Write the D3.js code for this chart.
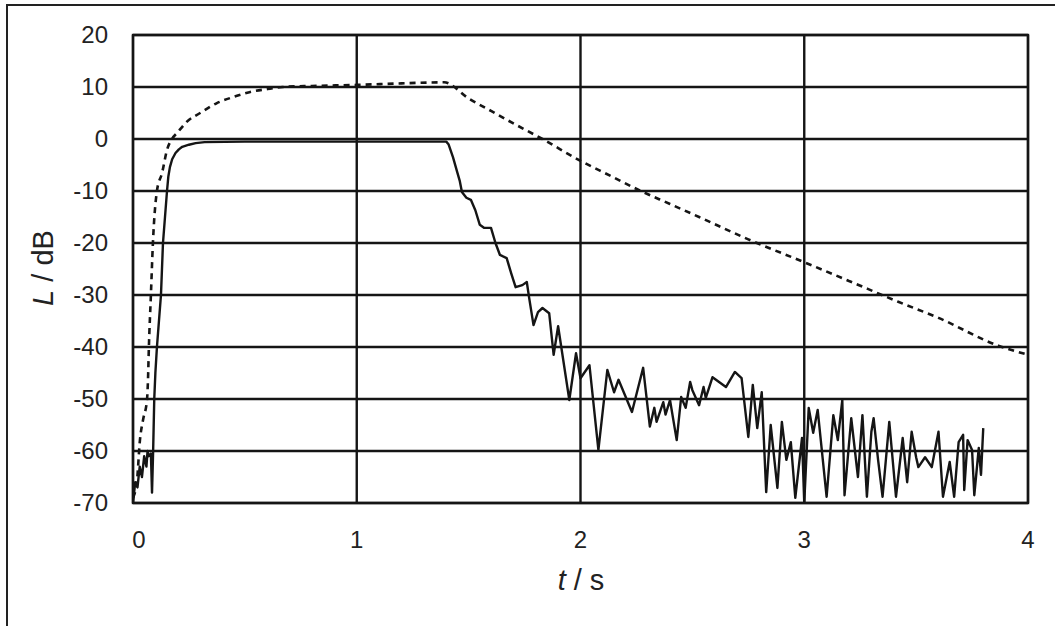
<!DOCTYPE html>
<html>
<head>
<meta charset="utf-8">
<script src="https://cdn.jsdelivr.net/npm/d3@7"></script>
<style>
  html, body { margin: 0; padding: 0; background: #fff; }
  svg { display: block; }
</style>
</head>
<body>
<svg id="chart" width="1055" height="626"></svg>
<script>
// level vs time, solid = measured decay, dashed = second curve
const xTicks = [0, 1, 2, 3, 4];
const yTicks = [20, 10, 0, -10, -20, -30, -40, -50, -60, -70];

const tSolid = [0, 0.01, 0.02, 0.03, 0.04, 0.05, 0.06, 0.065, 0.07, 0.08,
  0.085, 0.09, 0.095, 0.1, 0.107, 0.125, 0.134, 0.152, 0.158, 0.165,
  0.175, 0.19, 0.205, 0.22, 0.25, 0.28, 0.32, 0.5, 1.0, 1.40,
  1.41, 1.43, 1.45, 1.46,
  1.47, 1.49, 1.51, 1.53, 1.55, 1.57, 1.60, 1.62, 1.64, 1.67,
  1.69, 1.71, 1.74, 1.76, 1.77, 1.79, 1.81, 1.83, 1.86, 1.88,
  1.90, 1.95, 1.98, 2.00, 2.04, 2.08, 2.12, 2.15, 2.17, 2.23,
  2.28, 2.31, 2.33, 2.34, 2.37, 2.38, 2.40, 2.43, 2.45, 2.47,
  2.49, 2.50, 2.53, 2.55, 2.56, 2.59, 2.65, 2.69, 2.72, 2.75,
  2.77, 2.79, 2.81, 2.83, 2.85, 2.88, 2.90, 2.92, 2.94, 2.96,
  2.99, 3.00, 3.02, 3.04, 3.06, 3.10, 3.13, 3.15, 3.17, 3.18,
  3.21, 3.24, 3.26, 3.28, 3.30, 3.31, 3.33, 3.35, 3.38, 3.41,
  3.44, 3.46, 3.48, 3.50, 3.51, 3.54, 3.57, 3.58, 3.60, 3.62,
  3.65, 3.67, 3.69, 3.71, 3.715, 3.73, 3.75, 3.76, 3.78, 3.79,
  3.80];
const lSolid = [-70, -66, -67, -63, -65, -61, -63, -60, -61, -60.5,
  -68, -60, -50, -45, -40, -30, -20, -10, -7.2, -5.4,
  -3.9, -2.7, -2.0, -1.5, -1.1, -0.8, -0.6, -0.5, -0.5, -0.5,
  -1, -3.5, -6.5, -8,
  -10.2, -11.3, -11.7, -13.7, -16.5, -17.1, -17.1, -20, -22.3, -22.9,
  -25.8, -28.5, -28.1, -27.5, -30.4, -35.8, -33.3, -32.5, -33.5, -41.5,
  -36, -50.2, -41.2, -46, -43.5, -59.8, -44.4, -48.7, -46.3, -52.5,
  -44, -55.3, -51.7, -54.4, -50.6, -53, -50.2, -57.9, -49.6, -51.7,
  -46.7, -48.3, -51.2, -47.7, -49.8, -45.8, -47.7, -44.8, -46.0, -57.3,
  -47.3, -55.6, -48.7, -67.9, -55.0, -67.1, -54.4, -61.7, -58.3, -69.0,
  -57.5, -70, -51.7, -56.5, -52.1, -68.8, -53.1, -57.9, -50.2, -68.5,
  -53.7, -65.0, -53.1, -68.8, -56.3, -53.7, -61.7, -68.8, -54.4, -68.8,
  -57.5, -66.0, -56.3, -61.2, -63.1, -61.2, -63.1, -60.8, -56.3, -68.8,
  -62.1, -68.8, -58.3, -56.9, -67.5, -57.9, -59.8, -68.5, -59.4, -64.6,
  -55.6];

const tDashed = [0, 0.018, 0.031, 0.045, 0.0625, 0.067, 0.071, 0.08, 0.089, 0.107,
  0.13, 0.152, 0.174, 0.2, 0.24, 0.3, 0.375, 0.45, 0.52, 0.6,
  0.67, 0.8, 1.0, 1.2, 1.39, 1.5, 1.6, 1.7, 1.83, 2.0,
  2.13, 2.26, 2.4, 2.53, 2.75, 3.0, 3.2, 3.42, 3.6, 3.87,
  4.0];
const lDashed = [-69, -65.6, -57.9, -54, -50.2, -46.3, -40, -30, -20, -10,
  -6.5, -2.1, 0, 1.3, 3.3, 5, 6.9, 8.1, 9, 9.6,
  10, 10.2, 10.4, 10.7, 10.9, 7.8, 5.4, 3.0, 0, -4.2,
  -7.0, -9.8, -12.5, -15, -19.3, -23.7, -27.3, -31.3, -34.4, -39.8,
  -41.5];

if (tSolid.length != lSolid.length || tDashed.length != lDashed.length)
  throw new Error("series length mismatch " + tSolid.length + "/" + lSolid.length +
    " " + tDashed.length + "/" + lDashed.length);

const svg = d3.select("#chart");
const INK = "#151515";
const FONT = "'Liberation Sans', Arial, sans-serif";

// plot box
const plotL = 133, plotR = 1028, plotT = 35, plotB = 503;
const x = d3.scaleLinear().domain([0, 4]).range([plotL, plotR]);
const y = d3.scaleLinear().domain([-70, 20]).range([plotB, plotT]);

// outer frame, right and bottom edges sit off the page
svg.append("rect")
  .attr("x", 7).attr("y", 5)
  .attr("width", 1100).attr("height", 700)
  .attr("fill", "#fff")
  .attr("stroke", "#222").attr("stroke-width", 2);

svg.append("defs").append("clipPath").attr("id", "plotclip")
  .append("rect")
  .attr("x", plotL).attr("y", plotT)
  .attr("width", plotR - plotL).attr("height", plotB - plotT);

// grid
svg.append("g").selectAll("line").data(yTicks).join("line")
  .attr("x1", plotL).attr("x2", plotR)
  .attr("y1", d => y(d)).attr("y2", d => y(d))
  .attr("stroke", INK).attr("stroke-width", 2.4);
svg.append("g").selectAll("line").data(xTicks).join("line")
  .attr("x1", d => x(d)).attr("x2", d => x(d))
  .attr("y1", plotT).attr("y2", plotB)
  .attr("stroke", INK).attr("stroke-width", 2.4);

// tick labels
svg.append("g").selectAll("text").data(yTicks).join("text")
  .attr("x", plotL - 25).attr("y", d => y(d))
  .attr("dy", "0.35em")
  .attr("text-anchor", "end")
  .attr("font-family", FONT).attr("font-size", 24)
  .attr("fill", "#222")
  .text(d => d);
svg.append("g").selectAll("text").data(xTicks).join("text")
  .attr("x", d => x(d) + (d == 0 ? 6 : 0)).attr("y", plotB + 45)
  .attr("text-anchor", "middle")
  .attr("font-family", FONT).attr("font-size", 24)
  .attr("fill", "#222")
  .text(d => d);

// axis titles
const xt = svg.append("text")
  .attr("x", 581).attr("y", 590)
  .attr("text-anchor", "middle")
  .attr("font-family", FONT).attr("font-size", 29)
  .attr("fill", "#222");
xt.append("tspan").attr("font-style", "italic").text("t");
xt.append("tspan").text(" / s");

const yt = svg.append("text")
  .attr("transform", "translate(53,268) rotate(-90)")
  .attr("text-anchor", "middle")
  .attr("font-family", FONT).attr("font-size", 29)
  .attr("fill", "#222");
yt.append("tspan").attr("font-style", "italic").text("L");
yt.append("tspan").text(" / dB");

// curves
const smooth = d3.line()
  .x(d => x(d[0])).y(d => y(d[1]))
  .curve(d3.curveMonotoneX);
const jagged = d3.line()
  .x(d => x(d[0])).y(d => y(d[1]));

const plot = svg.append("g").attr("clip-path", "url(#plotclip)");

plot.append("path")
  .attr("d", smooth(d3.zip(tDashed, lDashed)))
  .attr("fill", "none")
  .attr("stroke", INK).attr("stroke-width", 2.6)
  .attr("stroke-dasharray", "6,5");

plot.append("path")
  .attr("d", jagged(d3.zip(tSolid, lSolid)))
  .attr("fill", "none")
  .attr("stroke", INK).attr("stroke-width", 2.4)
  .attr("stroke-linejoin", "round");

// plot border on top
svg.append("rect")
  .attr("x", plotL).attr("y", plotT)
  .attr("width", plotR - plotL).attr("height", plotB - plotT)
  .attr("fill", "none")
  .attr("stroke", INK).attr("stroke-width", 2.4);
</script>
</body>
</html>
